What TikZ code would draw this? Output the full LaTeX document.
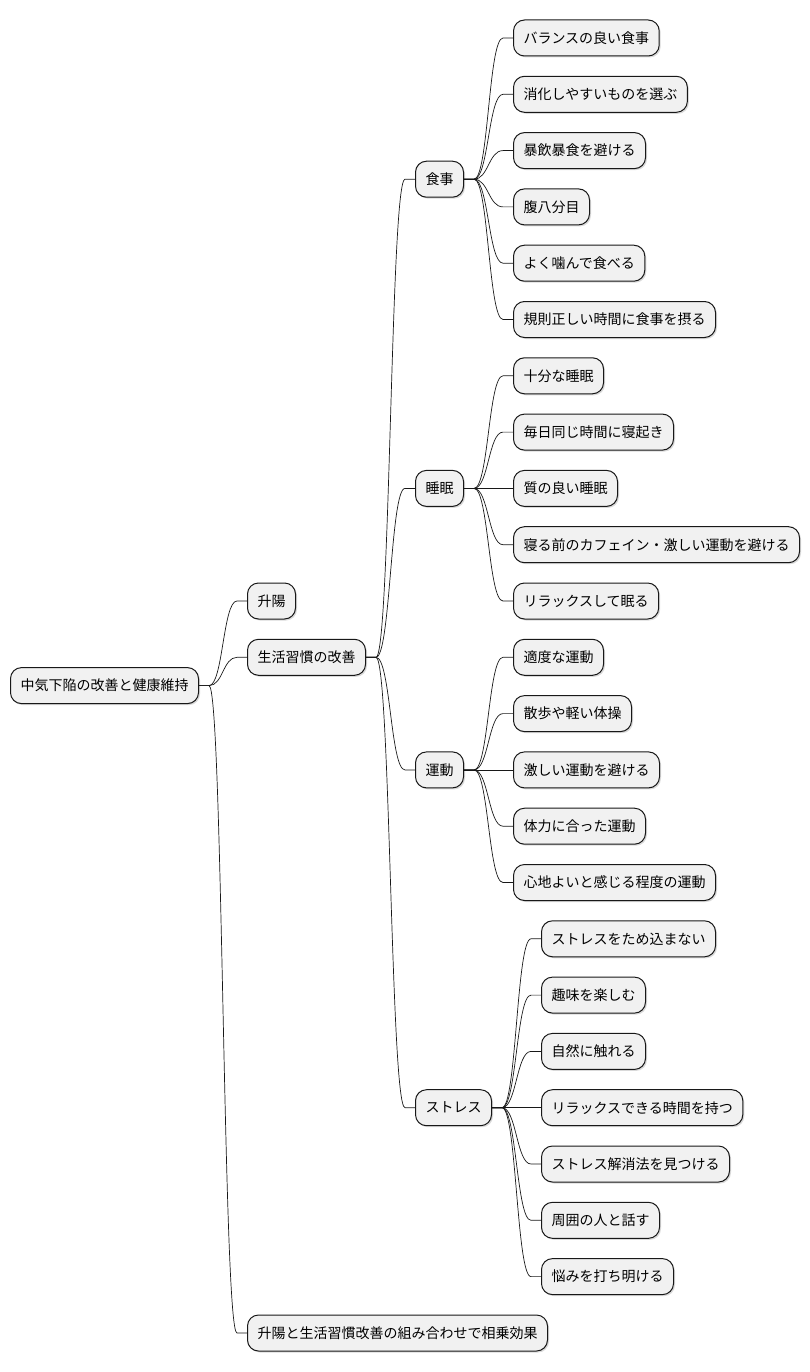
\documentclass[tikz,border=0pt]{standalone}
\usepackage{fontspec}
\setmainfont{Noto Sans CJK JP}
\usetikzlibrary{calc,shadows}
\definecolor{boxfill}{HTML}{F1F1F1}
\definecolor{boxline}{HTML}{181818}
\newcommand\mlink[2]{\draw[conn] let \p1=(#1.east), \p2=(#2.west) in (\p1) -- (\x1+10pt,\y1) .. controls ({(\x1+\x2)/2},\y1) and ({(\x1+\x2)/2},\y2) .. (\x2-10pt,\y2) -- (\p2);}
\begin{document}
\begin{tikzpicture}[x=1pt,y=-1pt,
 box/.style={draw=boxline, fill=boxfill, line width=1pt, rounded corners=11pt, minimum height=36pt, inner xsep=10pt, inner ysep=0pt, anchor=west, font=\fontsize{14pt}{16pt}\selectfont, drop shadow={shadow xshift=1.5pt, shadow yshift=-1.5pt, opacity=0.15, fill=black}},
 conn/.style={draw=boxline, line width=0.7pt}]
\useasboundingbox (0,0) rectangle (810,1372);
% root and level 1
\node[box] (root) at (10,685.6) {中気下陥の改善と健康維持};
\node[box] (sy) at (247,601) {升陽};
\node[box] (sk) at (247,657.3) {生活習慣の改善};
\node[box] (kk) at (247,1333) {升陽と生活習慣改善の組み合わせで相乗効果};
% level 2
\node[box] (sj) at (415,179.2) {食事};
\node[box] (sm) at (415,488.4) {睡眠};
\node[box] (ud) at (415,769.9) {運動};
\node[box] (st) at (415,1107.7) {ストレス};
% leaves: food
\node[box] (a1) at (513,38) {バランスの良い食事};
\node[box] (a2) at (513,94.3) {消化しやすいものを選ぶ};
\node[box] (a3) at (513,150.6) {暴飲暴食を避ける};
\node[box] (a4) at (513,206.9) {腹八分目};
\node[box] (a5) at (513,263.2) {よく噛んで食べる};
\node[box] (a6) at (513,319.5) {規則正しい時間に食事を摂る};
% sleep
\node[box] (b1) at (513,375.8) {十分な睡眠};
\node[box] (b2) at (513,432.1) {毎日同じ時間に寝起き};
\node[box] (b3) at (513,488.4) {質の良い睡眠};
\node[box] (b4) at (513,544.7) {寝る前のカフェイン・激しい運動を避ける};
\node[box] (b5) at (513,601) {リラックスして眠る};
% exercise
\node[box] (c1) at (513,657.3) {適度な運動};
\node[box] (c2) at (513,713.6) {散歩や軽い体操};
\node[box] (c3) at (513,769.9) {激しい運動を避ける};
\node[box] (c4) at (513,826.2) {体力に合った運動};
\node[box] (c5) at (513,882.5) {心地よいと感じる程度の運動};
% stress
\node[box] (d1) at (541,938.8) {ストレスをため込まない};
\node[box] (d2) at (541,995.1) {趣味を楽しむ};
\node[box] (d3) at (541,1051.4) {自然に触れる};
\node[box] (d4) at (541,1107.7) {リラックスできる時間を持つ};
\node[box] (d5) at (541,1164) {ストレス解消法を見つける};
\node[box] (d6) at (541,1220.3) {周囲の人と話す};
\node[box] (d7) at (541,1276.6) {悩みを打ち明ける};
% connectors
\mlink{root}{sy}\mlink{root}{sk}\mlink{root}{kk}
\mlink{sk}{sj}\mlink{sk}{sm}\mlink{sk}{ud}\mlink{sk}{st}
\foreach \q in {a1,a2,a3,a4,a5,a6}{\mlink{sj}{\q}}
\foreach \q in {b1,b2,b3,b4,b5}{\mlink{sm}{\q}}
\foreach \q in {c1,c2,c3,c4,c5}{\mlink{ud}{\q}}
\foreach \q in {d1,d2,d3,d4,d5,d6,d7}{\mlink{st}{\q}}
\end{tikzpicture}
\end{document}
